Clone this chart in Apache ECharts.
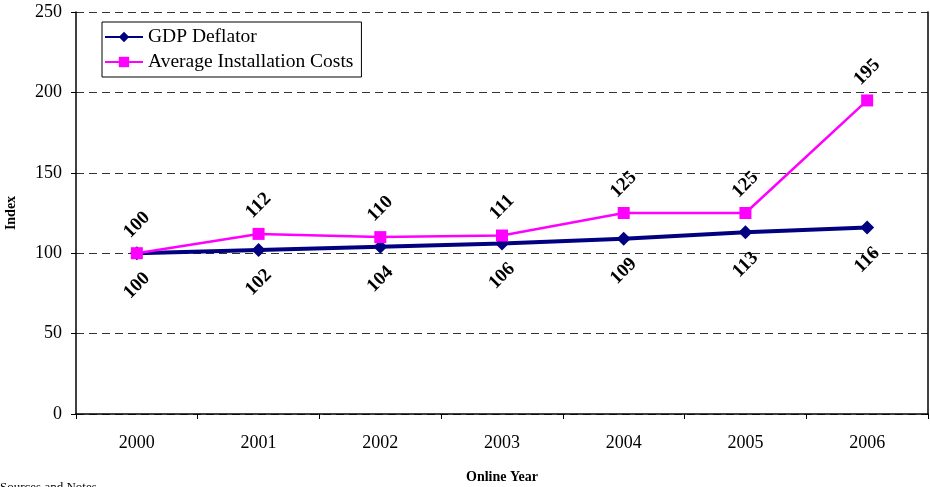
<!DOCTYPE html>
<html><head><meta charset="utf-8">
<script src="https://cdn.jsdelivr.net/npm/echarts@6/dist/echarts.min.js"></script>
<style>html,body{margin:0;padding:0;background:#fff}#c{width:930px;height:487px}</style>
</head><body><div id="c"></div>
<script>
const years = ['2000','2001','2002','2003','2004','2005','2006'];
const gdpDeflator = [100,102,104,106,109,113,116];
const avgInstall = [100,112,110,111,125,125,195];
const F = 'Liberation Serif, Times New Roman, serif';
const chart = echarts.init(document.getElementById('c'));
chart.setOption({
  animation:false,
  textStyle:{fontFamily:F},
  grid:{left:76,right:2,top:12,bottom:73,containLabel:false,outerBoundsMode:'none'},
  legend:{
    left:102, top:22, orient:'vertical', itemGap:5,
    padding:[5,8,5,2],
    borderColor:'#000', borderWidth:1, backgroundColor:'#fff',
    itemWidth:38, itemHeight:13,
    textStyle:{fontFamily:F,fontSize:19.5,color:'#000'},
    data:['GDP Deflator','Average Installation Costs']
  },
  xAxis:{
    type:'category', data:years, boundaryGap:true,
    name:'Online Year', nameLocation:'middle', nameGap:56,
    nameTextStyle:{fontFamily:F,fontWeight:'bold',fontSize:14,color:'#000'},
    axisLine:{lineStyle:{color:'#000',width:1.5}},
    axisTick:{show:true,length:5,lineStyle:{color:'#000'}},
    axisLabel:{margin:20,fontFamily:F,fontSize:18,color:'#000'}
  },
  yAxis:[{
    type:'value', min:0, max:250, interval:50,
    name:'Index', nameLocation:'middle', nameGap:58, nameRotate:90,
    nameTextStyle:{fontFamily:F,fontWeight:'bold',fontSize:14,color:'#000'},
    axisLine:{show:true,lineStyle:{color:'#000',width:1.5}},
    axisTick:{show:true,length:5,lineStyle:{color:'#000'}},
    axisLabel:{margin:14,fontFamily:F,fontSize:18,color:'#000'},
    splitLine:{show:true,lineStyle:{color:'#333',type:[8,5],width:1}}
  },{
    type:'value', min:0, max:250, interval:50, position:'right',
    axisLine:{show:true,lineStyle:{color:'#000',width:1.5}},
    axisTick:{show:false}, axisLabel:{show:false}, splitLine:{show:false}
  }],
  series:[{
    name:'GDP Deflator', type:'line', data:gdpDeflator,
    symbol:'diamond', symbolSize:14,
    itemStyle:{color:'#000080'},
    lineStyle:{color:'#000080',width:4},
    label:{show:true,position:'inside',offset:[-23,23],rotate:45,
      align:'center',verticalAlign:'middle',
      fontFamily:F,fontWeight:'bold',fontSize:19,color:'#000'},
    z:3
  },{
    name:'Average Installation Costs', type:'line', data:avgInstall,
    symbol:'rect', symbolSize:12,
    itemStyle:{color:'#FF00FF'},
    lineStyle:{color:'#FF00FF',width:2.5},
    label:{show:true,position:'inside',offset:[20,-20],rotate:45,
      align:'center',verticalAlign:'middle',
      fontFamily:F,fontWeight:'bold',fontSize:19,color:'#000'},
    z:4
  }],
  graphic:[{type:'text',left:0,top:481,style:{text:'Sources and Notes',fontFamily:F,fontSize:13,fill:'#000'}}]
});
</script></body></html>
